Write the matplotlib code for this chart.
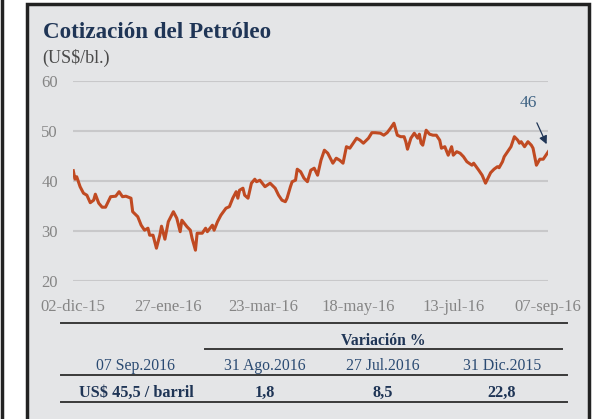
import numpy as np
import pandas as pd
import matplotlib
matplotlib.use("Agg")
import matplotlib.pyplot as plt
from matplotlib.patches import Rectangle
from matplotlib.lines import Line2D

# data: days after 02-dic-15 and price (US$/bl.)
start = pd.Timestamp("2015-12-02")
days = [0, 1, 2, 4, 6, 8, 10, 12, 13, 15, 17, 19, 22, 25, 27, 29, 31, 34, 35, 38,
        40, 42, 44, 45, 47, 49, 51, 52, 54, 56, 59, 61, 63, 64, 67, 69, 70, 72, 73, 76,
        78, 79, 82, 83, 85, 87, 90, 92, 94, 96, 97, 98, 100, 101, 103, 105, 107, 108, 110, 113,
        116, 119, 121, 123, 125, 126, 128, 129, 131, 132, 134, 136, 138, 140, 142, 144, 146, 148, 150, 153,
        155, 157, 159, 161, 163, 165, 167, 169, 171, 174, 176, 178, 181, 183, 185, 187, 189, 191, 193, 195,
        196, 197, 199, 201, 203, 204, 205, 206, 208, 210, 212, 214, 216, 217, 219, 221, 223, 224, 226, 228,
        230, 232, 235, 236, 239, 241, 243, 246, 248, 250, 251, 253, 254, 256, 258, 260, 262, 263, 264, 266,
        268, 270, 271, 272, 273, 275, 277, 280]
price = [42.0, 40.3, 40.8, 38.8, 37.5, 37.1, 35.6, 36.1, 37.3, 35.5, 34.7, 34.7, 36.8, 36.9, 37.8, 36.8, 36.9, 36.5, 33.8, 32.8,
         31.1, 30.1, 30.5, 29.1, 29.1, 26.5, 29.1, 30.9, 28.3, 31.8, 33.8, 32.5, 29.8, 32.1, 30.8, 30.1, 28.5, 26.1, 29.5, 29.5,
         30.5, 29.8, 31.1, 30.1, 31.8, 33.1, 34.5, 34.8, 36.5, 37.8, 36.5, 38.1, 38.5, 37.1, 36.5, 39.5, 40.3, 39.8, 40.1, 38.8,
         39.5, 38.5, 37.1, 36.1, 35.8, 36.5, 38.8, 39.8, 40.1, 42.3, 41.8, 40.5, 39.8, 42.1, 42.5, 41.1, 44.1, 46.1, 45.5, 43.5,
         44.5, 44.1, 43.5, 46.8, 46.5, 47.5, 48.5, 48.1, 47.5, 48.5, 49.6, 49.6, 49.5, 49.1, 49.6, 50.5, 51.5, 49.1, 48.8, 48.8,
         47.8, 46.3, 48.5, 49.5, 48.5, 49.3, 47.5, 47.1, 50.1, 49.3, 49.1, 49.1, 48.1, 46.5, 46.8, 45.1, 46.8, 45.1, 45.8, 45.5,
         44.8, 43.8, 43.1, 43.5, 42.1, 41.1, 39.5, 41.6, 42.3, 42.8, 42.6, 43.8, 44.8, 45.8, 46.8, 48.8, 48.1, 47.5, 47.8, 46.8,
         47.8, 47.1, 46.5, 44.8, 43.1, 44.3, 44.3, 45.8]
tick_labels = ["02-dic-15", "27-ene-16", "23-mar-16", "18-may-16", "13-jul-16", "07-sep-16"]
yticks = [20, 30, 40, 50, 60]

hdr_dates = ["07 Sep.2016", "31 Ago.2016", "27 Jul.2016", "31 Dic.2015"]
hdr_values = ["US$ 45,5 / barril", "1,8", "8,5", "22,8"]

dates = start + pd.to_timedelta(days, unit="D")
tick_dates = [start + pd.Timedelta(days=56 * i) for i in range(len(tick_labels))]

W, H = 611, 419
navy = "#1f3556"
serif = ["Liberation Serif", "DejaVu Serif"]

fig = plt.figure(figsize=(W / 100, H / 100), dpi=100)
fig.patch.set_facecolor("white")

def fx(px):
    return px / W

def fy(py):
    return 1 - py / H

# grey box with black border, and the edge of the left panel
fig.patches.append(Rectangle((fx(27), fy(425)), fx(562), 421 / H, transform=fig.transFigure,
                             facecolor="#e4e5e7", edgecolor="#222222", lw=2.5, zorder=-5))
fig.lines.append(Line2D([fx(2), fx(2)], [0, 1], transform=fig.transFigure, color="#222222", lw=2.5))

ax = fig.add_axes([fx(73.3), fy(280.7), fx(475), 200 / H])
ax.set_facecolor("none")
ax.plot(dates, price, color="#c04a22", lw=2.2, solid_joinstyle="round", zorder=3)
ax.set_xlim(start, tick_dates[-1])
ax.set_ylim(20, 60)
ax.set_yticks(yticks)
ax.set_xticks(tick_dates)
ax.set_xticklabels(tick_labels)
for s in ax.spines.values():
    s.set_visible(False)
ax.grid(axis="y", color="#c8c8ca", lw=1.5)
ax.tick_params(length=0, colors="#858585", labelsize=12)
ax.tick_params(axis="y", pad=11)
ax.tick_params(axis="x", pad=13)
for t in ax.get_xticklabels() + ax.get_yticklabels():
    t.set_fontfamily(serif)

# "46" call-out
ax.annotate("46", xy=(dates[-1] - pd.Timedelta(days=1), 47.3), xytext=(dates[-1] - pd.Timedelta(days=12), 55.5),
            color="#3f6384", fontsize=12.5, fontfamily=serif, ha="center", va="center",
            arrowprops=dict(arrowstyle="-|>", color="#1f3556", lw=0.9, mutation_scale=12,
                            shrinkA=7, shrinkB=0))

fig.text(fx(43), fy(33), "Cotización del Petróleo", fontsize=16.6, fontweight="bold",
         color=navy, fontfamily=serif, va="center")
fig.text(fx(42), fy(58), "(US$/bl.)", fontsize=13, color="#4a4a4a", fontfamily=serif, va="center")

# summary table
def hline(y, x0, x1):
    fig.lines.append(Line2D([fx(x0), fx(x1)], [fy(y), fy(y)], transform=fig.transFigure,
                            color="#3a3a3a", lw=1.4))

hline(322.7, 61, 567)
hline(349, 205, 562)
hline(375, 61, 567)
hline(402, 61, 567)

fig.text(fx(383), fy(341), "Variación %", fontsize=11.3, fontweight="bold", color=navy,
         fontfamily=serif, ha="center", va="center")
col_x = [136, 265, 383, 502]
for cx, d, v in zip(col_x, hdr_dates, hdr_values):
    fig.text(fx(cx), fy(365.5), d, fontsize=11.3, color="#2a4a72", fontfamily=serif,
             ha="center", va="center")
    fig.text(fx(cx), fy(392.5), v, fontsize=11.7, fontweight="bold", color=navy,
             fontfamily=serif, ha="center", va="center")

fig.savefig("out.png", dpi=100, facecolor="white")
